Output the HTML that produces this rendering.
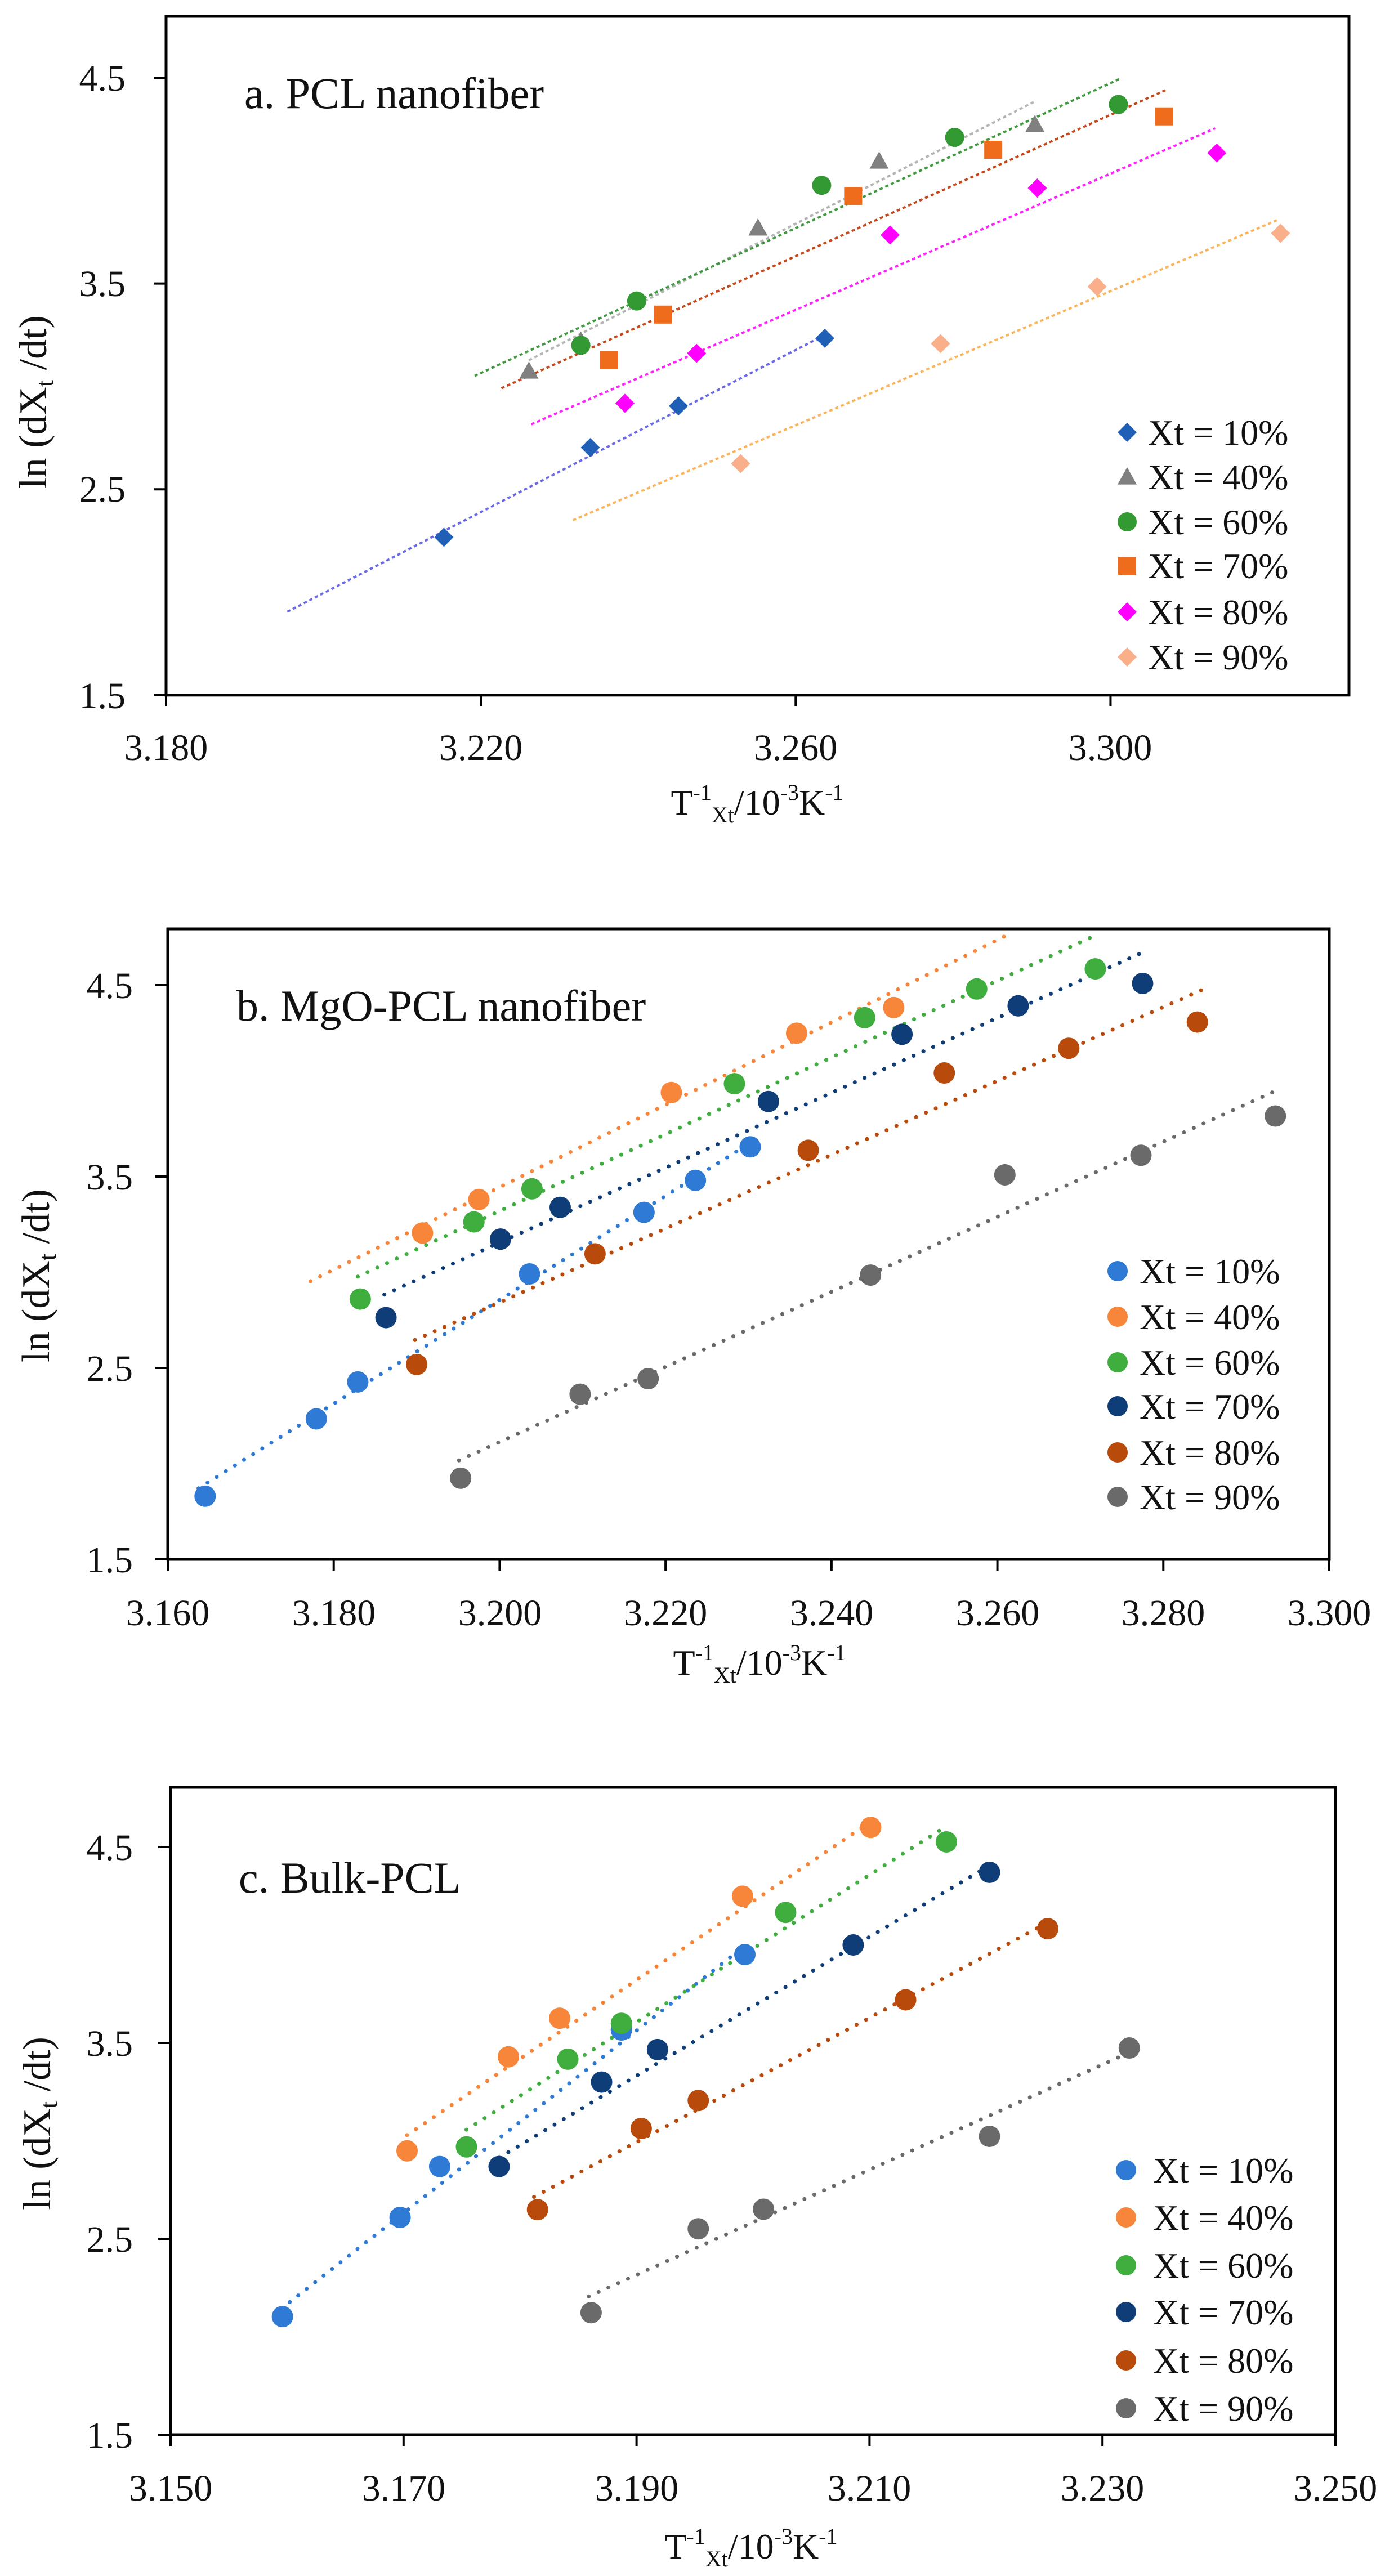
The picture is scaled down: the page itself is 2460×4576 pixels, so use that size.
<!DOCTYPE html>
<html><head><meta charset="utf-8">
<style>
html,body{margin:0;padding:0;background:#fff;}
svg{display:block;}
text{font-family:"Liberation Serif",serif;fill:#111;}
.tk{font-size:66px;}
.lg{font-size:64px;}
.ttl{font-size:78px;}
.yl{font-size:70px;}
.xl{font-size:64px;}
</style></head>
<body>
<svg id="s" width="2460" height="4576" viewBox="0 0 2460 4576" xmlns="http://www.w3.org/2000/svg">
<rect width="2460" height="4576" fill="#fff"/>
<g id="plots"></g>

<!-- Panel a text -->
<text class="ttl" x="434" y="192">a. PCL nanofiber</text>
<g class="tk" text-anchor="end">
<text x="223" y="161">4.5</text><text x="223" y="526">3.5</text><text x="223" y="891">2.5</text><text x="223" y="1258">1.5</text>
</g>
<g class="tk" text-anchor="middle">
<text x="295" y="1350">3.180</text><text x="854" y="1350">3.220</text><text x="1413" y="1350">3.260</text><text x="1972" y="1350">3.300</text>
</g>
<text class="yl" transform="translate(82,714) rotate(-90)" text-anchor="middle">ln (dX<tspan font-size="44" dy="12">t</tspan><tspan dy="-12"> /dt)</tspan></text>
<text class="xl" x="1345" y="1447" text-anchor="middle">T<tspan font-size="40" dy="-26">-1</tspan><tspan font-size="40" dy="40">Xt</tspan><tspan dy="-14">/10</tspan><tspan font-size="40" dy="-26">-3</tspan><tspan dy="26">K</tspan><tspan font-size="40" dy="-26">-1</tspan></text>
<g class="lg">
<text x="2039" y="790">Xt = 10%</text><text x="2039" y="869">Xt = 40%</text><text x="2039" y="949">Xt = 60%</text>
<text x="2039" y="1027">Xt = 70%</text><text x="2039" y="1109">Xt = 80%</text><text x="2039" y="1189">Xt = 90%</text>
</g>

<!-- Panel b text -->
<text class="ttl" x="420" y="1813">b. MgO-PCL nanofiber</text>
<g class="tk" text-anchor="end">
<text x="236" y="1773">4.5</text><text x="236" y="2113">3.5</text><text x="236" y="2453">2.5</text><text x="236" y="2793">1.5</text>
</g>
<g class="tk" text-anchor="middle">
<text x="298" y="2887">3.160</text><text x="593" y="2887">3.180</text><text x="888" y="2887">3.200</text><text x="1182" y="2887">3.220</text>
<text x="1477" y="2887">3.240</text><text x="1772" y="2887">3.260</text><text x="2066" y="2887">3.280</text><text x="2361" y="2887">3.300</text>
</g>
<text class="yl" transform="translate(87,2266) rotate(-90)" text-anchor="middle">ln (dX<tspan font-size="44" dy="12">t</tspan><tspan dy="-12"> /dt)</tspan></text>
<text class="xl" x="1349" y="2975" text-anchor="middle">T<tspan font-size="40" dy="-26">-1</tspan><tspan font-size="40" dy="40">Xt</tspan><tspan dy="-14">/10</tspan><tspan font-size="40" dy="-26">-3</tspan><tspan dy="26">K</tspan><tspan font-size="40" dy="-26">-1</tspan></text>
<g class="lg">
<text x="2024" y="2280">Xt = 10%</text><text x="2024" y="2361">Xt = 40%</text><text x="2024" y="2442">Xt = 60%</text>
<text x="2024" y="2520">Xt = 70%</text><text x="2024" y="2602">Xt = 80%</text><text x="2024" y="2681">Xt = 90%</text>
</g>

<!-- Panel c text -->
<text class="ttl" x="424" y="3362">c. Bulk-PCL</text>
<g class="tk" text-anchor="end">
<text x="236" y="3304">4.5</text><text x="236" y="3652">3.5</text><text x="236" y="4000">2.5</text><text x="236" y="4348">1.5</text>
</g>
<g class="tk" text-anchor="middle">
<text x="303" y="4442">3.150</text><text x="717" y="4442">3.170</text><text x="1131" y="4442">3.190</text>
<text x="1544" y="4442">3.210</text><text x="1958" y="4442">3.230</text><text x="2372" y="4442">3.250</text>
</g>
<text class="yl" transform="translate(89,3772) rotate(-90)" text-anchor="middle">ln (dX<tspan font-size="44" dy="12">t</tspan><tspan dy="-12"> /dt)</tspan></text>
<text class="xl" x="1334" y="4545" text-anchor="middle">T<tspan font-size="40" dy="-26">-1</tspan><tspan font-size="40" dy="40">Xt</tspan><tspan dy="-14">/10</tspan><tspan font-size="40" dy="-26">-3</tspan><tspan dy="26">K</tspan><tspan font-size="40" dy="-26">-1</tspan></text>
<g class="lg">
<text x="2048" y="3877">Xt = 10%</text><text x="2048" y="3961">Xt = 40%</text><text x="2048" y="4046">Xt = 60%</text>
<text x="2048" y="4129">Xt = 70%</text><text x="2048" y="4215">Xt = 80%</text><text x="2048" y="4300">Xt = 90%</text>
</g>
</svg>
<script>
(function(){
var NS="http://www.w3.org/2000/svg",G=document.getElementById("plots");
function el(t,a){var e=document.createElementNS(NS,t);for(var k in a)e.setAttribute(k,a[k]);G.appendChild(e);return e;}
function marker(sh,x,y,c,r){
 if(sh=="c")el("circle",{cx:x,cy:y,r:r,fill:c});
 else if(sh=="d")el("polygon",{points:(x)+","+(y-r)+" "+(x+r)+","+y+" "+x+","+(y+r)+" "+(x-r)+","+y,fill:c});
 else if(sh=="s")el("rect",{x:x-r+1,y:y-r+1,width:2*r-2,height:2*r-2,fill:c});
 else if(sh=="t")el("polygon",{points:x+","+(y-r)+" "+(x+r)+","+(y+r*0.8)+" "+(x-r)+","+(y+r*0.8),fill:c});
}
function panel(P){
 var X=function(v){return P.l+(v-P.x0)/(P.x1-P.x0)*(P.r-P.l);};
 var Y=function(v){return P.y45+(4.5-v)*P.u;};
 // lines
 P.s.forEach(function(s){
  el("line",{x1:X(s.L[0]),y1:Y(s.L[1]),x2:X(s.L[2]),y2:Y(s.L[3]),stroke:s.lc,"stroke-width":P.lw,"stroke-dasharray":P.da,"stroke-linecap":P.cap});
 });
 P.s.forEach(function(s){
  s.p.forEach(function(q){marker(s.m,X(q[0]),Y(q[1]),s.c,P.mr);});
 });
 // box
 el("rect",{x:P.l,y:P.t,width:P.r-P.l,height:Y(1.5)-P.t,fill:"none",stroke:"#000","stroke-width":5});
 [4.5,3.5,2.5,1.5].forEach(function(v){el("line",{x1:P.l-22,y1:Y(v),x2:P.l,y2:Y(v),stroke:"#000","stroke-width":4});});
 P.xt.forEach(function(v){el("line",{x1:X(v),y1:Y(1.5),x2:X(v),y2:Y(1.5)+20,stroke:"#000","stroke-width":4});});
 // legend markers
 P.s.forEach(function(s,i){marker(s.m,P.lx,P.ly[i],s.c,P.lr);});
}
panel({l:295,r:2396,t:29,x0:3.18,x1:3.3303,y45:138,u:365.6,lw:4,da:"6 5",cap:"butt",mr:17,lr:17,
 xt:[3.18,3.22,3.26,3.30],lx:2002,ly:[768,847,927,1005,1087,1167],
 s:[
 {m:"d",c:"#1f5fb5",lc:"#6a6ae6",p:[[3.2153,2.267],[3.2339,2.703],[3.2451,2.905],[3.2637,3.234]],L:[3.1954,1.905,3.2637,3.25]},
 {m:"t",c:"#808080",lc:"#b4b4b4",p:[[3.2261,3.075],[3.2327,3.221],[3.2552,3.770],[3.2706,4.095],[3.2904,4.273]],L:[3.2261,3.127,3.2904,4.385]},
 {m:"c",c:"#339933",lc:"#3f9a3f",p:[[3.2327,3.200],[3.2398,3.415],[3.2633,3.977],[3.2802,4.210],[3.3010,4.370]],L:[3.2192,3.051,3.3012,4.495]},
 {m:"s",c:"#ee6c1c",lc:"#c4481a",p:[[3.2363,3.127],[3.2431,3.349],[3.2673,3.925],[3.2851,4.150],[3.3068,4.312]],L:[3.2226,2.991,3.3072,4.443]},
 {m:"d",c:"#ff00ff",lc:"#ff22ff",p:[[3.2383,2.918],[3.2474,3.161],[3.2720,3.736],[3.2907,3.964],[3.3135,4.134]],L:[3.2264,2.816,3.3133,4.254]},
 {m:"d",c:"#f9b08a",lc:"#fbb45a",p:[[3.2530,2.625],[3.2784,3.208],[3.2983,3.485],[3.3216,3.744]],L:[3.2317,2.350,3.3213,3.810]}
 ]});
var cols=[["#2e7ad4","#2e7ad4"],["#f7863a","#f7863a"],["#3fae3f","#3fae3f"],["#0f3d78","#0f3d78"],["#b84a0c","#b84a0c"],["#6a6a6a","#6a6a6a"]];
function mk(pts,L){return pts.map(function(p,i){return {m:"c",c:cols[i][0],lc:cols[i][1],p:p,L:L[i]};});}
panel({l:298,r:2361,t:1650,x0:3.16,x1:3.30,y45:1750,u:340,lw:7,da:"0.1 19",cap:"round",mr:19,lr:18,
 xt:[3.16,3.18,3.20,3.22,3.24,3.26,3.28,3.30],lx:1985,ly:[2258,2339,2420,2498,2580,2659],
 s:mk([
 [[3.1645,1.830],[3.1779,2.234],[3.1829,2.427],[3.2036,2.991],[3.2174,3.313],[3.2236,3.480],[3.2302,3.655]],
 [[3.1907,3.205],[3.1975,3.380],[3.2207,3.939],[3.2358,4.249],[3.2475,4.383]],
 [[3.1832,2.860],[3.1969,3.263],[3.2039,3.436],[3.2283,3.985],[3.2440,4.330],[3.2575,4.480],[3.2718,4.585]],
 [[3.1863,2.763],[3.2001,3.173],[3.2073,3.339],[3.2324,3.892],[3.2485,4.243],[3.2625,4.392],[3.2775,4.509]],
 [[3.1900,2.518],[3.2115,3.096],[3.2372,3.637],[3.2536,4.041],[3.2686,4.170],[3.2841,4.307]],
 [[3.1953,1.924],[3.2097,2.363],[3.2179,2.444],[3.2447,2.985],[3.2609,3.509],[3.2773,3.611],[3.2935,3.816]]
 ],[[3.1637,1.871,3.2303,3.678],[3.1772,2.953,3.2611,4.760],[3.1829,2.977,3.2718,4.760],[3.1861,2.883,3.2773,4.667],[3.1898,2.646,3.2846,4.474],[3.1951,2.017,3.2932,3.941]])});
panel({l:303,r:2372,t:3175,x0:3.15,x1:3.25,y45:3281,u:348,lw:7,da:"0.1 19",cap:"round",mr:19,lr:18,
 xt:[3.15,3.17,3.19,3.21,3.23,3.25],lx:2000,ly:[3855,3939,4024,4107,4193,4278],
 s:mk([
 [[3.1596,2.103],[3.1697,2.609],[3.1731,2.869],[3.1887,3.566],[3.1993,3.951]],
 [[3.1703,2.949],[3.1790,3.429],[3.1834,3.626],[3.1991,4.249],[3.2101,4.600]],
 [[3.1754,2.969],[3.1841,3.417],[3.1887,3.600],[3.2028,4.166],[3.2166,4.526]],
 [[3.1782,2.869],[3.1870,3.300],[3.1918,3.466],[3.2086,4.000],[3.2203,4.371]],
 [[3.1815,2.649],[3.1904,3.063],[3.1953,3.206],[3.2131,3.720],[3.2253,4.083]],
 [[3.1861,2.123],[3.1953,2.551],[3.2009,2.651],[3.2203,3.023],[3.2323,3.474]]
 ],[[3.1595,2.143,3.1994,4.0],[3.1703,3.029,3.2101,4.629],[3.1754,3.057,3.2166,4.606],[3.1782,2.914,3.2203,4.406],[3.1812,2.714,3.2253,4.114],[3.1859,2.206,3.2323,3.451]])});
})();
</script>
</body></html>
